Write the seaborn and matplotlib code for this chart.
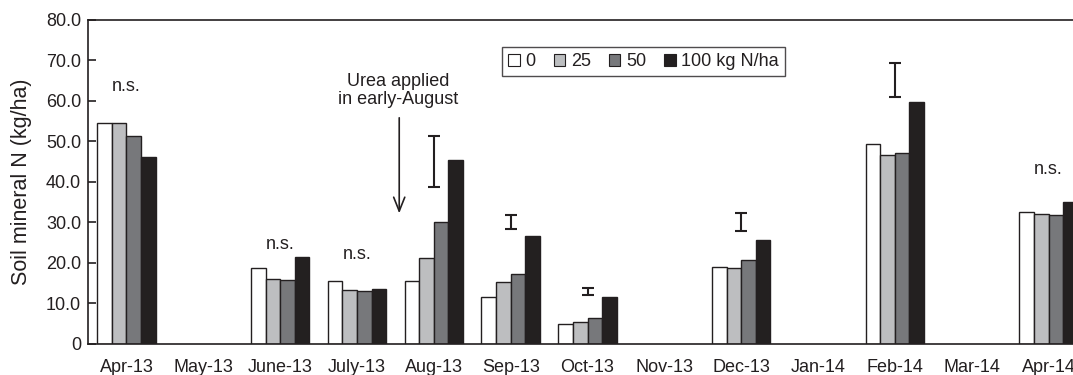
import numpy as np
import pandas as pd
import seaborn as sns
import matplotlib
matplotlib.use("Agg")
import matplotlib.pyplot as plt
from matplotlib.patches import Patch
from matplotlib.ticker import FuncFormatter, FixedLocator

# Sampling months (months without sampling carry NaN)
months = ["Apr-13", "May-13", "June-13", "July-13", "Aug-13", "Sep-13", "Oct-13",
          "Nov-13", "Dec-13", "Jan-14", "Feb-14", "Mar-14", "Apr-14"]
rates = ["0", "25", "50", "100"]
rate_labels = ["0", "25", "50", "100 kg N/ha"]

# Soil mineral N (kg/ha) per N rate
n0 = [54.5, np.nan, 18.6, 15.4, 15.4, 11.4, 4.7, np.nan, 19.0, np.nan, 49.4, np.nan, 32.4]
n25 = [54.5, np.nan, 16.0, 13.3, 21.2, 15.3, 5.4, np.nan, 18.6, np.nan, 46.7, np.nan, 32.0]
n50 = [51.2, np.nan, 15.8, 12.9, 30.0, 17.2, 6.3, np.nan, 20.7, np.nan, 47.2, np.nan, 31.8]
n100 = [46.0, np.nan, 21.3, 13.4, 45.3, 26.5, 11.5, np.nan, 25.6, np.nan, 59.7, np.nan, 35.1]

# LSD bars (lower and upper ends)
lsd_months = ["Aug-13", "Sep-13", "Oct-13", "Dec-13", "Feb-14"]
lsd_low = [38.8, 28.3, 12.0, 27.7, 61.0]
lsd_high = [51.4, 31.8, 13.7, 32.3, 69.3]

# Non-significant months and label heights
ns_months = ["Apr-13", "June-13", "July-13", "Apr-14"]
ns_y = [63.5, 24.4, 22.0, 43.0]

colors = ["#ffffff", "#bcbec0", "#77787b", "#231f20"]
ink = "#231f20"

df = pd.DataFrame({
    "month": months * 4,
    "rate": sum([[r] * len(months) for r in rates], []),
    "value": n0 + n25 + n50 + n100,
})

sns.set_style("white")
plt.rcParams["font.family"] = ["Liberation Sans", "DejaVu Sans"]

fig = plt.figure(figsize=(10.73, 3.75), dpi=100)
ax_w = 999.0
ax = fig.add_axes([88 / 1073, 31.5 / 375, ax_w / 1073, 323.5 / 375])

sns.barplot(data=df, x="month", y="value", hue="rate", order=months,
            hue_order=rates, palette=colors, width=0.76, edgecolor=ink,
            linewidth=1.0, errorbar=None, legend=False, ax=ax)

# LSD bars centred on each month
lx = [months.index(m) for m in lsd_months]
mid = [(a + b) / 2 for a, b in zip(lsd_low, lsd_high)]
half = [(b - a) / 2 for a, b in zip(lsd_low, lsd_high)]
ax.errorbar(lx, mid, yerr=half, fmt="none", ecolor=ink, elinewidth=1.5,
            capsize=4, capthick=1.5)

for m, y in zip(ns_months, ns_y):
    ax.text(months.index(m), y, "n.s.", ha="center", va="center",
            fontsize=13, color=ink)

# Fertiliser application marker
ax.annotate("", xy=(3.55, 31.5), xytext=(3.55, 56.5),
            arrowprops=dict(arrowstyle="->,head_length=1.0,head_width=0.4",
                            color=ink, lw=1.2))
ax.text(3.53, 62.5, "Urea applied\nin early-August", ha="center", va="center",
        fontsize=13, color=ink, linespacing=1.05)

ax.set_xlim(-0.5, len(months) - 0.5)
ax.set_ylim(0, 80)
ax.set_yticks(np.arange(0, 81, 10))
ax.yaxis.set_major_formatter(FuncFormatter(lambda v, p: "0" if v == 0 else f"{v:.1f}"))
ax.xaxis.set_minor_locator(FixedLocator(np.arange(0.5, len(months) - 1, 1.0)))
ax.tick_params(axis="x", which="major", length=0, pad=11, labelsize=13, labelcolor=ink)
ax.tick_params(axis="x", which="minor", direction="in", length=5, width=1.5, color=ink)
ax.tick_params(axis="y", direction="in", length=6, width=1.2, color=ink,
               labelsize=13, labelcolor=ink, pad=5, left=True)
ax.set_xlabel("")
ax.set_ylabel("Soil mineral N (kg/ha)", fontsize=15.5, color=ink)
ax.yaxis.label.set_va("center")
ax.yaxis.set_label_coords((21 - 88) / ax_w, 0.5)

for s in ["left", "top", "bottom", "right"]:
    ax.spines[s].set_color(ink)
    ax.spines[s].set_linewidth(1.2)
    ax.spines[s].set_visible(True)

handles = [Patch(facecolor=c, edgecolor=ink, linewidth=0.8) for c in colors]
leg = ax.legend(handles, rate_labels, loc="upper center",
                bbox_to_anchor=((643.5 - 88) / ax_w, (343.5 - 46.7) / 323.5),
                ncol=4, frameon=True, fancybox=False, fontsize=13,
                handlelength=0.65, handleheight=0.65, handletextpad=0.3,
                columnspacing=1.0, borderpad=0.35, borderaxespad=0)
leg.get_frame().set_edgecolor(ink)
leg.get_frame().set_linewidth(1.0)
for t in leg.get_texts():
    t.set_color(ink)

fig.savefig("out.png", dpi=100)
